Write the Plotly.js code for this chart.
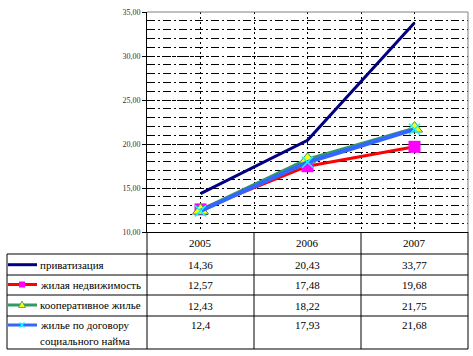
<!DOCTYPE html>
<html><head><meta charset="utf-8">
<script src="https://cdn.plot.ly/plotly-3.0.1.min.js"></script>
<style>
html,body{margin:0;padding:0;background:#fff}
#c{width:473px;height:356px}
#c svg text{font-family:"Times New Roman","Liberation Serif",serif !important}
</style>
</head><body><div id="c"></div>
<script>
const years = ['2005', '2006', '2007'];
const seriesNames = ['приватизация', 'жилая недвижимость', 'кооперативное жилье', 'жилье по договору социального найма'];
const privatization = [14.36, 20.43, 33.77];
const residentialRealty = [12.57, 17.48, 19.68];
const cooperativeHousing = [12.43, 18.22, 21.75];
const socialHiring = [12.4, 17.93, 21.68];
const yTickVals = [10, 15, 20, 25, 30, 35];

const W = 473, H = 356, L = 147, R = 468, T = 12, B = 232;
const px = x => (x - L) / (R - L);
const py = y => (B - y) / (B - T);
const fmt = v => String(v).replace('.', ',');
const FONT = 'Times New Roman';

const colors = ['#000080', '#FF0000', '#339966', '#3366FF'];
const data = [
  {x: years, y: privatization, name: seriesNames[0], mode: 'lines', line: {color: colors[0], width: 3}},
  {x: years, y: residentialRealty, name: seriesNames[1], mode: 'lines+markers', line: {color: colors[1], width: 3},
   marker: {symbol: 'square', size: 12, color: '#FF00FF'}},
  {x: years, y: cooperativeHousing, name: seriesNames[2], mode: 'lines+markers', line: {color: colors[2], width: 4},
   marker: {symbol: 'triangle-up', size: 14, color: '#FFFF00', line: {color: '#339966', width: 1}}},
  {x: years, y: socialHiring, name: seriesNames[3], mode: 'lines+markers', line: {color: colors[3], width: 4},
   marker: {symbol: 'x-thin', size: 11, color: '#00FFFF', line: {color: '#00FFFF', width: 1.5}}}
];

const shapes = [];
const annotations = [];
function hline(y, x0, x1, color, w) {
  shapes.push({type: 'line', xref: 'paper', yref: 'paper', x0: px(x0), x1: px(x1), y0: py(y), y1: py(y),
    line: {color: color || '#000', width: w || 1}});
}
function vline(x, y0, y1, color, w) {
  shapes.push({type: 'line', xref: 'paper', yref: 'paper', x0: px(x), x1: px(x), y0: py(y0), y1: py(y1),
    line: {color: color || '#000', width: w || 1}});
}
function text(x, y, t, anchor) {
  annotations.push({xref: 'paper', yref: 'paper', x: px(x), y: py(y), text: t, showarrow: false,
    xanchor: anchor || 'center', yanchor: 'middle', font: {family: FONT, size: 11, color: '#000'}});
}
// plot borders (top/right gray)
hline(T, L, R, '#808080', 1);
vline(R, T, B, '#808080', 1);
// table grid
[254, 275, 295, 316, 349].forEach(y => hline(y, 7, R));
vline(7, 254, 349);
[L, 254, 361, R].forEach(x => vline(x, B, 349));

const colX = [200.5, 307.5, 414.5];
years.forEach((yr, i) => text(colX[i], 243, yr));
const allSeries = [privatization, residentialRealty, cooperativeHousing, socialHiring];
const rowY = [264.5, 285, 305.5, 325];
allSeries.forEach((s, r) => s.forEach((v, i) => text(colX[i], rowY[r], fmt(v))));
// legend labels
const labelLines = [[seriesNames[0]], [seriesNames[1]], [seriesNames[2]], ['жилье по договору', 'социального найма']];
const keyY = [264.7, 284.5, 305, 325];
labelLines.forEach((lines, r) => {
  lines.forEach((t, k) => text(38, keyY[r] + 16 * k, t, 'left'));
  shapes.push({type: 'line', xref: 'paper', yref: 'paper', x0: px(8), x1: px(37), y0: py(keyY[r]), y1: py(keyY[r]),
    line: {color: colors[r], width: 3}});
});
// legend key markers
const kx = 22;
shapes.push({type: 'rect', xref: 'paper', yref: 'paper', x0: px(kx - 3), x1: px(kx + 3), y0: py(keyY[1] - 3), y1: py(keyY[1] + 3),
  fillcolor: '#FF00FF', line: {width: 0}});
shapes.push({type: 'path', xref: 'paper', yref: 'paper',
  path: `M ${px(kx - 3.5)} ${py(keyY[2] + 2.5)} L ${px(kx + 3.5)} ${py(keyY[2] + 2.5)} L ${px(kx)} ${py(keyY[2] - 4)} Z`,
  fillcolor: '#FFFF00', line: {color: '#339966', width: 0.8}});
shapes.push({type: 'line', xref: 'paper', yref: 'paper', x0: px(kx - 2.5), x1: px(kx + 2.5), y0: py(keyY[3] - 2.5), y1: py(keyY[3] + 2.5),
  line: {color: '#00FFFF', width: 1.2}});
shapes.push({type: 'line', xref: 'paper', yref: 'paper', x0: px(kx - 2.5), x1: px(kx + 2.5), y0: py(keyY[3] + 2.5), y1: py(keyY[3] - 2.5),
  line: {color: '#00FFFF', width: 1.2}});

const layout = {
  width: W, height: H,
  margin: {l: L, r: W - R, t: T, b: H - B, pad: 0},
  paper_bgcolor: '#fff', plot_bgcolor: '#fff',
  showlegend: false,
  separators: ', ',
  xaxis: {type: 'category', range: [-0.5, 2.5], showticklabels: false, ticks: '',
    tickvals: [-0.5, 0, 0.5, 1, 1.5, 2, 2.5], showgrid: true, gridcolor: '#000', gridwidth: 1, griddash: '2px,3px',
    showline: true, linecolor: '#000', linewidth: 1, zeroline: false, fixedrange: true},
  yaxis: {range: [10, 35], tickvals: yTickVals, tickformat: '.2f', ticks: 'outside', ticklen: 4, tickcolor: '#000',
    tickfont: {family: FONT, size: 8, color: '#333'},
    showgrid: true, gridcolor: '#000', gridwidth: 1, griddash: '2px,3px',
    minor: {dtick: 1, showgrid: true, gridcolor: '#000', gridwidth: 1, griddash: '8px,3px,2px,3px'},
    showline: true, linecolor: '#000', linewidth: 1, zeroline: false, fixedrange: true},
  shapes: shapes,
  annotations: annotations
};
Plotly.newPlot('c', data, layout, {displayModeBar: false});
</script></body></html>
